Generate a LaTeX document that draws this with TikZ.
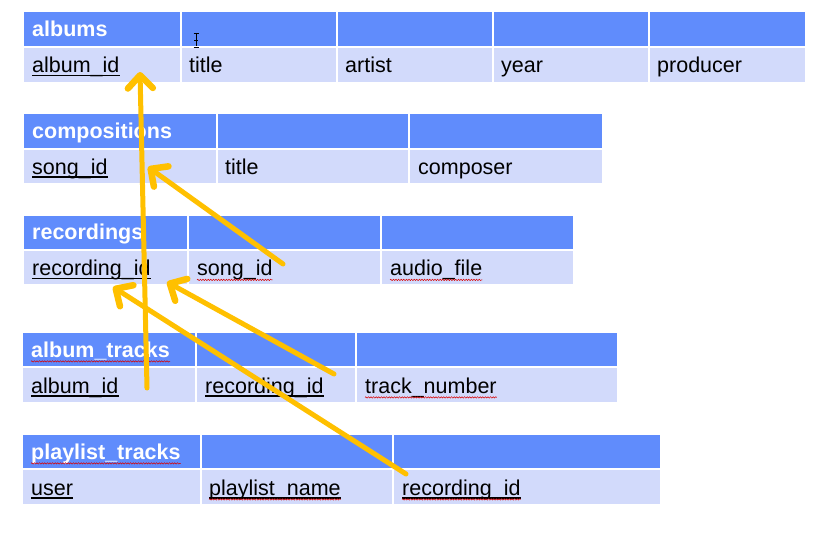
\documentclass[tikz,border=0pt]{standalone}
\usepackage{fontspec}
\setmainfont{Liberation Sans}
\usetikzlibrary{arrows.meta,decorations.pathmorphing}
\definecolor{hdrblue}{RGB}{96,140,252}
\definecolor{rowblue}{RGB}{210,218,251}
\definecolor{gold}{RGB}{255,192,0}
\newcommand\cellbox[6]{\node[#6,anchor=north west,minimum width=#4bp-#2bp,minimum height=#5bp-#3bp] (#1) at (#2,#3) {};}
\newcommand\hdrtext[4]{\node[htxt] (#1) at (#2,#3) {#4};}
\newcommand\datatext[4]{\node[dtxt] (#1) at (#2,#3) {#4};}
\newcommand\keytext[4]{\node[dtxt] (#1) at (#2,#3) {#4};
  \draw[ulline] ([yshift=-2.8bp]#1.base west) -- ([yshift=-2.8bp]#1.base east);}
\newcommand\wavy[1]{\draw[spell] ([yshift=-4.2bp]#1.base west) -- ([yshift=-4.2bp]#1.base east);}
\begin{document}
\begin{tikzpicture}[x=1bp,y=-1bp,
  cellbase/.style={inner sep=0pt,outer sep=0pt,draw=none},
  hcell/.style={cellbase,fill=hdrblue},
  dcell/.style={cellbase,fill=rowblue},
  htxt/.style={anchor=base west,inner sep=0pt,text=white,font=\fontsize{21.5bp}{26bp}\selectfont\bfseries},
  dtxt/.style={anchor=base west,inner sep=0pt,text=black,font=\fontsize{21.5bp}{26bp}\selectfont},
  ulline/.style={draw=black,line width=1.4bp},
  spell/.style={draw=red!85!black,line width=0.5bp,decorate,decoration={snake,amplitude=0.7bp,segment length=2.6bp}},
  fk/.style={draw=gold,line width=5bp,line cap=round,-{Straight Barb[length=13bp,width=25bp,line width=6.5bp,round]}}
  ]
\useasboundingbox (0,0) rectangle (829,533);
% ---------- albums ----------
\cellbox{a-h1}{24}{12}{180}{46}{hcell}
\cellbox{a-h2}{182}{12}{336}{46}{hcell}
\cellbox{a-h3}{338}{12}{492}{46}{hcell}
\cellbox{a-h4}{494}{12}{648}{46}{hcell}
\cellbox{a-h5}{650}{12}{805}{46}{hcell}
\cellbox{a-d1}{24}{48}{180}{82}{dcell}
\cellbox{a-d2}{182}{48}{336}{82}{dcell}
\cellbox{a-d3}{338}{48}{492}{82}{dcell}
\cellbox{a-d4}{494}{48}{648}{82}{dcell}
\cellbox{a-d5}{650}{48}{805}{82}{dcell}
\hdrtext{a-ht}{32}{36.7}{albums}
\keytext{a-t1}{32}{72.7}{album\_id}
\datatext{a-t2}{189}{72.7}{title}
\datatext{a-t3}{345}{72.7}{artist}
\datatext{a-t4}{501}{72.7}{year}
\datatext{a-t5}{657}{72.7}{producer}
% ---------- compositions ----------
\cellbox{c-h1}{24}{114}{216}{148}{hcell}
\cellbox{c-h2}{218}{114}{408}{148}{hcell}
\cellbox{c-h3}{410}{114}{602}{148}{hcell}
\cellbox{c-d1}{24}{150}{216}{183}{dcell}
\cellbox{c-d2}{218}{150}{408}{183}{dcell}
\cellbox{c-d3}{410}{150}{602}{183}{dcell}
\hdrtext{c-ht}{32}{138.2}{compositions}
\keytext{c-t1}{32}{174.2}{song\_id}
\datatext{c-t2}{225}{174.2}{title}
\datatext{c-t3}{418}{174.2}{composer}
% ---------- recordings ----------
\cellbox{r-h1}{24}{216}{187}{249}{hcell}
\cellbox{r-h2}{189}{216}{380}{249}{hcell}
\cellbox{r-h3}{382}{216}{573}{249}{hcell}
\cellbox{r-d1}{24}{251}{187}{284}{dcell}
\cellbox{r-d2}{189}{251}{380}{284}{dcell}
\cellbox{r-d3}{382}{251}{573}{284}{dcell}
\hdrtext{r-ht}{32}{239.7}{recordings}
\keytext{r-t1}{32}{275.7}{recording\_id}
\datatext{r-t2}{197}{275.7}{song\_id}
\datatext{r-t3}{390}{275.7}{audio\_file}
\wavy{r-t2}
\wavy{r-t3}
% ---------- album_tracks ----------
\cellbox{t-h1}{23}{333}{195}{366}{hcell}
\cellbox{t-h2}{197}{333}{355}{366}{hcell}
\cellbox{t-h3}{357}{333}{617}{366}{hcell}
\cellbox{t-d1}{23}{368}{195}{402}{dcell}
\cellbox{t-d2}{197}{368}{355}{402}{dcell}
\cellbox{t-d3}{357}{368}{617}{402}{dcell}
\hdrtext{t-ht}{31}{357.2}{album\_tracks}
\wavy{t-ht}
\keytext{t-t1}{31}{393.2}{album\_id}
\keytext{t-t2}{205}{393.2}{recording\_id}
\datatext{t-t3}{365}{393.2}{track\_number}
\wavy{t-t3}
% ---------- playlist_tracks ----------
\cellbox{p-h1}{23}{435}{200}{468}{hcell}
\cellbox{p-h2}{202}{435}{392}{468}{hcell}
\cellbox{p-h3}{394}{435}{660}{468}{hcell}
\cellbox{p-d1}{23}{470}{200}{504}{dcell}
\cellbox{p-d2}{202}{470}{392}{504}{dcell}
\cellbox{p-d3}{394}{470}{660}{504}{dcell}
\hdrtext{p-ht}{31}{459.2}{playlist\_tracks}
\wavy{p-ht}
\keytext{p-t1}{31}{495.2}{user}
\keytext{p-t2}{209}{495.2}{playlist\_name}
\keytext{p-t3}{402}{495.2}{recording\_id}
\wavy{p-t2}
\wavy{p-t3}
% ---------- text cursor ----------
\draw[black,line width=0.8bp] (196,33.5) -- (196,46.5);
\draw[black,line width=0.8bp] (193.5,33) -- (198.5,33) (193.5,47) -- (198.5,47) (194,40) -- (198,40);
% ---------- foreign key arrows ----------
\coordinate (k1s) at (147,388); \coordinate (k1e) at (140,72);
\coordinate (k2s) at (283,264); \coordinate (k2e) at (148,167);
\coordinate (k3s) at (334,374); \coordinate (k3e) at (167,282);
\coordinate (k4s) at (406,474); \coordinate (k4e) at (113,287);
\draw[fk] (k1s) -- (k1e);
\draw[fk] (k2s) -- (k2e);
\draw[fk] (k3s) -- (k3e);
\draw[fk] (k4s) -- (k4e);
\end{tikzpicture}
\end{document}
